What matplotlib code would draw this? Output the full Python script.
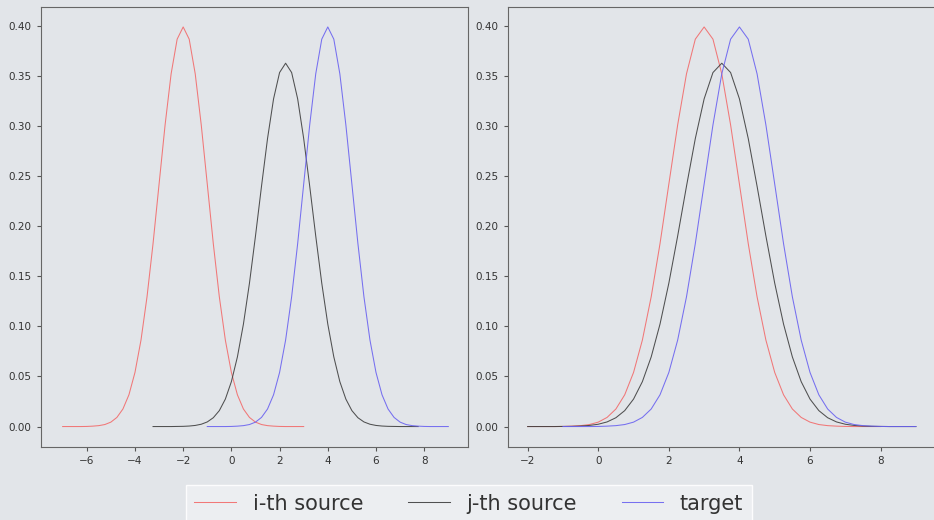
import numpy as np
import matplotlib
matplotlib.use('Agg')
import matplotlib.pyplot as plt

# --- DATA (density values, x grid step 0.25) ---
left_x = [-7.0, -6.75, -6.5, -6.25, -6.0, -5.75, -5.5, -5.25, -5.0, -4.75, -4.5, -4.25,
          -4.0, -3.75, -3.5, -3.25, -3.0, -2.75, -2.5, -2.25, -2.0, -1.75, -1.5, -1.25,
          -1.0, -0.75, -0.5, -0.25, 0.0, 0.25, 0.5, 0.75, 1.0, 1.25, 1.5, 1.75,
          2.0, 2.25, 2.5, 2.75, 3.0, 3.25, 3.5, 3.75, 4.0, 4.25, 4.5, 4.75,
          5.0, 5.25, 5.5, 5.75, 6.0, 6.25, 6.5, 6.75, 7.0, 7.25, 7.5, 7.75,
          8.0, 8.25, 8.5, 8.75, 9.0]

left_source_i = [0, 0, 0, 0, 0.0001, 0.0004, 0.0009, 0.002, 0.0044, 0.0091, 0.0175, 0.0317,
                 0.054, 0.0863, 0.1295, 0.1826, 0.242, 0.3011, 0.3521, 0.3867, 0.3989, 0.3867,
                 0.3521, 0.3011, 0.242, 0.1826, 0.1295, 0.0863, 0.054, 0.0317, 0.0175, 0.0091,
                 0.0044, 0.002, 0.0009, 0.0004, 0.0001, 0, 0, 0, 0,
                 None, None, None, None, None, None, None, None, None, None, None, None,
                 None, None, None, None, None, None, None, None, None, None, None, None]

left_source_j = [None, None, None, None, None, None, None, None, None, None, None, None,
                 None, None, None,
                 0, 0, 0, 0, 0.0001, 0.0002, 0.0005, 0.0011, 0.0023, 0.0046, 0.0088, 0.0159,
                 0.0274, 0.0448, 0.0695, 0.1023, 0.1431, 0.1902, 0.2399, 0.2875, 0.3271, 0.3534,
                 0.3627, 0.3534, 0.3271, 0.2875, 0.2399, 0.1902, 0.1431, 0.1023, 0.0695, 0.0448,
                 0.0274, 0.0159, 0.0088, 0.0046, 0.0023, 0.0011, 0.0005, 0.0002, 0.0001, 0, 0, 0, 0,
                 None, None, None, None, None]

left_target = [None, None, None, None, None, None, None, None, None, None, None, None,
               None, None, None, None, None, None, None, None, None, None, None, None,
               0, 0, 0, 0, 0.0001, 0.0004, 0.0009, 0.002, 0.0044, 0.0091, 0.0175, 0.0317,
               0.054, 0.0863, 0.1295, 0.1826, 0.242, 0.3011, 0.3521, 0.3867, 0.3989, 0.3867,
               0.3521, 0.3011, 0.242, 0.1826, 0.1295, 0.0863, 0.054, 0.0317, 0.0175, 0.0091,
               0.0044, 0.002, 0.0009, 0.0004, 0.0001, 0, 0, 0, 0]

right_x = [-2.0, -1.75, -1.5, -1.25, -1.0, -0.75, -0.5, -0.25, 0.0, 0.25, 0.5, 0.75,
           1.0, 1.25, 1.5, 1.75, 2.0, 2.25, 2.5, 2.75, 3.0, 3.25, 3.5, 3.75,
           4.0, 4.25, 4.5, 4.75, 5.0, 5.25, 5.5, 5.75, 6.0, 6.25, 6.5, 6.75,
           7.0, 7.25, 7.5, 7.75, 8.0, 8.25, 8.5, 8.75, 9.0]

right_source_i = [0, 0, 0, 0, 0.0001, 0.0004, 0.0009, 0.002, 0.0044, 0.0091, 0.0175, 0.0317,
                  0.054, 0.0863, 0.1295, 0.1826, 0.242, 0.3011, 0.3521, 0.3867, 0.3989, 0.3867,
                  0.3521, 0.3011, 0.242, 0.1826, 0.1295, 0.0863, 0.054, 0.0317, 0.0175, 0.0091,
                  0.0044, 0.002, 0.0009, 0.0004, 0.0001, 0, 0, 0, 0,
                  None, None, None, None]

right_source_j = [0, 0, 0, 0, 0.0001, 0.0002, 0.0005, 0.0011, 0.0023, 0.0046, 0.0088, 0.0159,
                  0.0274, 0.0448, 0.0695, 0.1023, 0.1431, 0.1902, 0.2399, 0.2875, 0.3271, 0.3534,
                  0.3627, 0.3534, 0.3271, 0.2875, 0.2399, 0.1902, 0.1431, 0.1023, 0.0695, 0.0448,
                  0.0274, 0.0159, 0.0088, 0.0046, 0.0023, 0.0011, 0.0005, 0.0002, 0.0001, 0, 0, 0, 0]

right_target = [None, None, None, None,
                0, 0, 0, 0, 0.0001, 0.0004, 0.0009, 0.002, 0.0044, 0.0091, 0.0175, 0.0317,
                0.054, 0.0863, 0.1295, 0.1826, 0.242, 0.3011, 0.3521, 0.3867, 0.3989, 0.3867,
                0.3521, 0.3011, 0.242, 0.1826, 0.1295, 0.0863, 0.054, 0.0317, 0.0175, 0.0091,
                0.0044, 0.002, 0.0009, 0.0004, 0.0001, 0, 0, 0, 0]

labels = ['i-th source', 'j-th source', 'target']
colors = ['#f26b6b', '#3f3f3f', '#6a62f0']

# --- PLOTTING ---
bg = '#e2e5e9'
fig = plt.figure(figsize=(9.34, 5.2), dpi=100, facecolor=bg)

ax_l = fig.add_axes([0.0436, 0.1413, 0.4578, 0.8452])
ax_r = fig.add_axes([0.5436, 0.1413, 0.4578, 0.8452])

panels = [
    (ax_l, left_x, [left_source_i, left_source_j, left_target]),
    (ax_r, right_x, [right_source_i, right_source_j, right_target]),
]

for ax, xs, series in panels:
    ax.set_facecolor('none')
    x = np.array(xs, dtype=float)
    for ys, c, lab in zip(series, colors, labels):
        y = np.array(ys, dtype=float)
        ax.plot(x, y, color=c, lw=0.75, alpha=0.9, label=lab)
    ax.set_ylim(-0.01995, 0.4188)
    ax.set_yticks([0.0, 0.05, 0.1, 0.15, 0.2, 0.25, 0.3, 0.35, 0.4])
    ax.yaxis.set_major_formatter(plt.FormatStrFormatter('%.2f'))
    ax.tick_params(labelsize=7.5, labelcolor='#333333', color='#555555', length=3)
    for s in ax.spines.values():
        s.set_color('#666666')
        s.set_linewidth(0.8)

ax_l.set_xlim(-7.91, 9.83)
ax_l.set_xticks([-6, -4, -2, 0, 2, 4, 6, 8])
ax_r.set_xlim(-2.565, 9.55)
ax_r.set_xticks([-2, 0, 2, 4, 6, 8])

handles, labs = ax_l.get_legend_handles_labels()
leg = fig.legend(handles, labs, loc='upper center', bbox_to_anchor=(0.502, 0.087),
                 ncol=3, fontsize=15, frameon=True, fancybox=False,
                 handlelength=2.0, columnspacing=2.15)
leg.get_frame().set_facecolor('#eef0f2')
leg.get_frame().set_edgecolor('#ffffff')
leg.get_frame().set_alpha(0.9)
for t in leg.get_texts():
    t.set_color('#333333')

fig.savefig('out.png', dpi=100, facecolor=bg)
